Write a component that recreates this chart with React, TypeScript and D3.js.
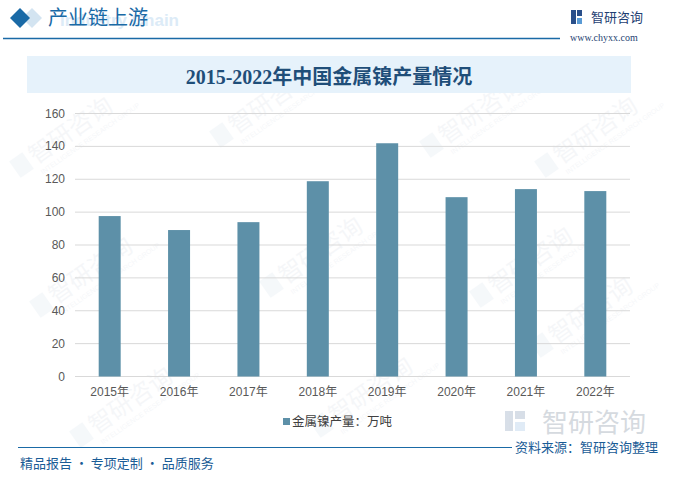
import React from "react";
import * as d3 from "d3";

const years = ["2015年", "2016年", "2017年", "2018年", "2019年", "2020年", "2021年", "2022年"];
const output = [97.6, 89.1, 93.9, 118.8, 141.9, 109.1, 114, 112.8];
const yTicks = [0, 20, 40, 60, 80, 100, 120, 140, 160];
const title = "2015-2022年中国金属镍产量情况";
const legendLabel = "金属镍产量：万吨";
const sourceText = "资料来源：智研咨询整理";
const footerText = "精品报告 · 专项定制 · 品质服务";

const W = 695;
const H = 477;
const CJK = "'Noto Sans CJK SC', 'Noto Sans', sans-serif";

export default function App() {
  const x = d3.scaleBand<string>().domain(years).range([75, 630]).paddingInner(0.683).paddingOuter(0.3415);
  const y = d3.scaleLinear().domain([0, 160]).range([376.5, 113.5]);

  const watermarks = [
    [50, 150], [250, 120], [460, 130], [575, 150],
    [70, 290], [300, 270], [510, 280],
    [110, 420], [350, 410], [570, 330],
  ];

  return (
    <div style={{ position: "absolute", left: 0, top: 0 }}>
      <svg width={W} height={H} style={{ display: "block", background: "#fff" }}>
        {/* watermarks */}
        {watermarks.map(([wx, wy], i) => (
          <g key={i} transform={`translate(${wx},${wy}) rotate(-35)`} opacity={0.05}>
            <rect x={-40} y={-14} width={16} height={20} fill="#4a7fb0" />
            <text x={-20} y={4} fontFamily={CJK} fontSize={24} fill="#4a6a90">智研咨询</text>
            <text x={-20} y={16} fontFamily="Liberation Sans" fontSize={7} fill="#4a6a90">INTELLIGENCE RESEARCH GROUP</text>
          </g>
        ))}

        {/* header */}
        <path d="M22,8 L32,18 L22,28 L12,18 Z" fill="#d3e4f1" transform="translate(10,0)" />
        <path d="M20,8 L30,18 L20,28 L10,18 Z" fill="#1a6aa6" />
        <text x={60} y={26} fontFamily="Liberation Sans" fontWeight="bold" fontSize={17} fill="#dcebf7">Industry Chain</text>
        <text x={48} y={25} fontFamily={CJK} fontSize={20} fill="#1a6aa6">产业链上游</text>
        <line x1={3} x2={560} y1={38.5} y2={38.5} stroke="#1a6aa6" strokeWidth={1.5} />

        {/* logo top right */}
        <g>
          <rect x={571} y={10} width={5} height={14} fill="#2a4f8a" />
          <rect x={577} y={10} width={5} height={6} fill="#2a4f8a" />
          <rect x={577} y={18} width={5} height={6} fill="#5a9bd5" />
          <text x={591} y={22} fontFamily={CJK} fontSize={13} fill="#1f3f73">智研咨询</text>
          <text x={570} y={41} fontFamily="Liberation Serif" fontSize={10} fill="#1f3f73">www.chyxx.com</text>
        </g>

        {/* title band */}
        <rect x={27} y={56} width={604} height={37} fill="#e6f2fb" />
        <text x={329} y={84} textAnchor="middle" fontFamily={`'Liberation Serif', ${CJK}`} fontWeight="bold" fontSize={20} fill="#1f4e79">{title}</text>

        {/* gridlines */}
        {yTicks.map((t) => (
          <line key={t} x1={75} x2={630} y1={y(t)} y2={y(t)} stroke="#d9d9d9" strokeWidth={1} />
        ))}
        {yTicks.map((t) => (
          <text key={"l" + t} x={65} y={y(t) + 4} textAnchor="end" fontFamily="'Liberation Sans', sans-serif" fontSize={12} fill="#595959">{t}</text>
        ))}

        {/* bars */}
        {years.map((yr, i) => (
          <rect key={yr} x={x(yr)} y={y(output[i])} width={x.bandwidth()} height={y(0) - y(output[i])} fill="#5d90a8" />
        ))}

        {/* x labels */}
        {years.map((yr) => (
          <text key={"x" + yr} x={(x(yr) as number) + x.bandwidth() / 2} y={396} textAnchor="middle" fontFamily={`'Liberation Sans', ${CJK}`} fontSize={12} fill="#595959">{yr}</text>
        ))}

        {/* legend */}
        <rect x={283} y={418} width={7} height={7} fill="#5d90a8" />
        <text x={292} y={426} fontFamily={CJK} fontSize={12.5} fill="#404040">{legendLabel}</text>

        {/* big watermark bottom right */}
        <g opacity={0.35}>
          <rect x={505} y={411} width={8} height={20} fill="#8fa3bd" />
          <rect x={515} y={411} width={10} height={8} fill="#8fa3bd" />
          <rect x={515} y={422} width={10} height={9} fill="#a9c7e6" />
          <text x={542} y={432} fontFamily={CJK} fontSize={26} fill="#8a96a6">智研咨询</text>
        </g>

        {/* footer */}
        <line x1={18} x2={512} y1={447.5} y2={447.5} stroke="#1a6aa6" strokeWidth={1} />
        <text x={515} y={452} fontFamily={CJK} fontSize={13} fill="#1a5c96">{sourceText}</text>
        <text x={20} y={468} fontFamily={CJK} fontSize={13} fill="#1a5c96">{footerText}</text>
      </svg>
    </div>
  );
}
